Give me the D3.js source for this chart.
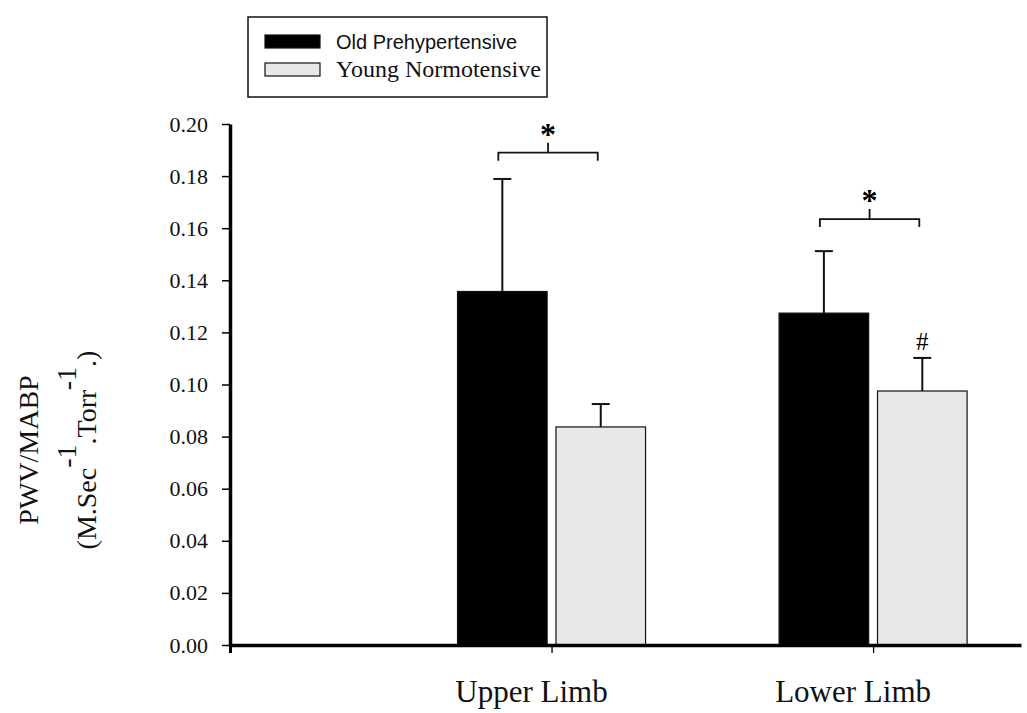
<html>
<head>
  <script src="https://d3js.org/d3.v7.min.js"></script>
  <style>
    body { margin: 0; background: #fff; }
    .tick text { font-family: "Liberation Serif", serif; font-size: 22px; fill: #111; }
    .cat-label { font-family: "Liberation Serif", serif; font-size: 31px; fill: #111; }
    .y-label { font-family: "Liberation Serif", serif; font-size: 28px; fill: #111; }
  </style>
</head>
<body>
  <svg id="chart" width="1027" height="713"></svg>
  <script>
    // data
    const categories = ["Upper Limb", "Lower Limb"];
    const groups = ["Old Prehypertensive", "Young Normotensive"];
    const oldMeans = [0.1357, 0.1274];
    const oldErrors = [0.0432, 0.0238];
    const youngMeans = [0.0837, 0.0975];
    const youngErrors = [0.0088, 0.0127];
    const yTicks = [0, 0.02, 0.04, 0.06, 0.08, 0.10, 0.12, 0.14, 0.16, 0.18, 0.20];
    const bracketLevels = [0.189, 0.1635];   // "*" brackets between the two bars
    const hashMarks = ["", "#"];              // over young bars

    const svg = d3.select("#chart");
    const fills = { "Old Prehypertensive": "#000", "Young Normotensive": "#e8e8e8" };

    const x = d3.scaleLinear().domain([0, 2.46]).range([230, 1021]);
    const y = d3.scaleLinear().domain([0, 0.2]).range([645, 124]);
    const inner = d3.scaleBand().domain(groups).range([-94, 94]).paddingInner(0.09);

    const rows = [];
    categories.forEach((c, i) => {
      rows.push({ cat: i, group: groups[0], mean: oldMeans[i], err: oldErrors[i] });
      rows.push({ cat: i, group: groups[1], mean: youngMeans[i], err: youngErrors[i] });
    });
    const cx = d => x(d.cat + 1) + inner(d.group) + inner.bandwidth() / 2;

    // bars
    svg.append("g").selectAll("rect").data(rows).join("rect")
      .attr("x", d => x(d.cat + 1) + inner(d.group))
      .attr("y", d => y(d.mean))
      .attr("width", inner.bandwidth())
      .attr("height", d => y(0) - y(d.mean))
      .attr("fill", d => fills[d.group])
      .attr("stroke", "#111")
      .attr("stroke-width", 1.2);

    // error bars (upper only)
    const eb = svg.append("g").attr("stroke", "#111").attr("stroke-width", 2);
    rows.forEach(d => {
      eb.append("line").attr("x1", cx(d)).attr("x2", cx(d))
        .attr("y1", y(d.mean)).attr("y2", y(d.mean + d.err));
      eb.append("line").attr("x1", cx(d) - 9).attr("x2", cx(d) + 9)
        .attr("y1", y(d.mean + d.err)).attr("y2", y(d.mean + d.err));
    });

    // significance brackets
    bracketLevels.forEach((lv, i) => {
      const a = rows[i * 2], b = rows[i * 2 + 1];
      const x1 = cx(a) - 4, x2 = cx(b) - 3, mid = (x1 + x2) / 2;
      const yl = y(lv);
      svg.append("path")
        .attr("d", `M${x1},${yl + 8}V${yl}H${x2}V${yl + 8}M${mid},${yl}V${yl - 10}`)
        .attr("fill", "none").attr("stroke", "#111").attr("stroke-width", 1.8);
      svg.append("text").attr("x", mid).attr("y", yl - 8)
        .attr("text-anchor", "middle")
        .style("font-family", "Liberation Serif, serif").style("font-size", "32px")
        .style("font-weight", "bold").text("*");
    });

    rows.filter(d => d.group === groups[1]).forEach(d => {
      if (!hashMarks[d.cat]) return;
      svg.append("text").attr("x", cx(d)).attr("y", y(d.mean + d.err) - 8)
        .attr("text-anchor", "middle")
        .style("font-family", "Liberation Serif, serif").style("font-size", "25px")
        .text(hashMarks[d.cat]);
    });

    // axes
    const xAxis = svg.append("g").attr("transform", "translate(0," + y(0) + ")")
      .call(d3.axisBottom(x).tickValues([0, 1, 2]).tickFormat("").tickSize(8).tickSizeOuter(0));
    xAxis.select(".domain").attr("stroke-width", 3.5);
    xAxis.selectAll(".tick line").attr("stroke-width", 1.3);
    xAxis.select(".tick line").attr("stroke-width", 3);

    const yAxis = svg.append("g").attr("transform", "translate(" + x(0) + ",0)")
      .call(d3.axisLeft(y).tickValues(yTicks).tickFormat(d3.format(".2f")).tickSize(8).tickSizeOuter(0));
    yAxis.select(".domain").attr("stroke-width", 3.5);
    yAxis.selectAll(".tick line").attr("stroke-width", 1.5);
    yAxis.selectAll(".tick text").attr("x", -22);

    // category labels
    svg.append("g").selectAll("text").data(categories).join("text")
      .attr("class", "cat-label")
      .attr("x", (d, i) => x(i + 1) - 20)
      .attr("y", 702)
      .attr("text-anchor", "middle")
      .text(d => d);

    // y label
    const yl = svg.append("g").attr("transform", "translate(0,450) rotate(-90)");
    yl.append("text").attr("class", "y-label").attr("x", 0).attr("y", 38)
      .attr("text-anchor", "middle").text("PWV/MABP");
    const l2 = yl.append("text").attr("class", "y-label").attr("x", 0).attr("y", 96)
      .attr("text-anchor", "middle");
    l2.append("tspan").text("(M.Sec");
    l2.append("tspan").attr("dy", -20).text("-1");
    l2.append("tspan").attr("dy", 20).text(".Torr");
    l2.append("tspan").attr("dy", -20).text("-1");
    l2.append("tspan").attr("dy", 20).text(".)");

    // legend
    const lg = svg.append("g");
    lg.append("rect").attr("x", 248).attr("y", 17).attr("width", 299).attr("height", 80)
      .attr("fill", "#fff").attr("stroke", "#111").attr("stroke-width", 1.5);
    groups.forEach((g, i) => {
      lg.append("rect").attr("x", 265).attr("y", 35 + i * 28).attr("width", 55).attr("height", 13)
        .attr("fill", fills[g]).attr("stroke", "#111").attr("stroke-width", 1.2);
      lg.append("text").attr("x", 336).attr("y", 49 + i * 28)
        .style("font-family", i === 0 ? "Liberation Sans, sans-serif" : "Liberation Serif, serif")
        .style("font-size", i === 0 ? "20px" : "24px")
        .attr("fill", "#111")
        .text(g);
    });
  </script>
</body>
</html>
